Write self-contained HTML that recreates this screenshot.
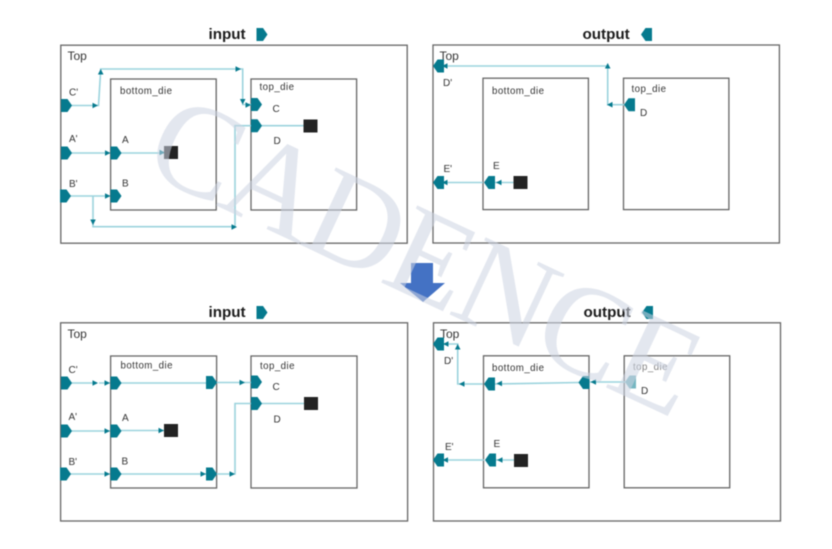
<!DOCTYPE html>
<html><head><meta charset="utf-8"><style>
html,body{margin:0;padding:0;background:#fff}
svg{display:block;filter:blur(.5px)}
text{font-family:"Liberation Sans",sans-serif;fill:#333;font-size:10px}
.t{font-size:15.2px;font-weight:bold;fill:#1c1c1c}
.top{font-size:12px}
.die{font-size:9.7px;letter-spacing:.45px}
.box{fill:none;stroke:#666;stroke-width:1.3}
.w{fill:none;stroke:#9bd3dd;stroke-width:1.6}
.sq{fill:#232323}
.wm{font-family:"Liberation Serif",serif;font-size:130px;letter-spacing:-4px;fill:rgb(205,212,226);opacity:.55}
</style></head><body>
<svg width="832" height="549" viewBox="0 0 832 549" xmlns="http://www.w3.org/2000/svg">
<defs>
<path id="pr" d="M0,-6.5H6.5L11,0L6.5,6.5H0Z" fill="#067a8e"/>
<path id="pl" d="M0,-6.5H-6.5L-11,0L-6.5,6.5H0Z" fill="#067a8e"/>
<path id="ar" d="M0,0L-5.5,-2.8V2.8Z" fill="#067a8e"/>
<path id="al" d="M0,0L5.5,-2.8V2.8Z" fill="#067a8e"/>
<path id="au" d="M0,0L-2.8,5.5H2.8Z" fill="#067a8e"/>
<path id="ad" d="M0,0L-2.8,-5.5H2.8Z" fill="#067a8e"/>
</defs>

<!-- Panel 1 -->
<text class="t" x="208.5" y="39">input</text><use href="#pr" x="256.5" y="34.5"/>
<rect class="box" x="60.8" y="45.2" width="346.4" height="198"/>
<rect class="box" x="110.6" y="79" width="105.6" height="131"/>
<rect class="box" x="251" y="79" width="105.6" height="131"/>
<text class="top" x="67.5" y="60">Top</text>
<text class="die" x="120" y="94">bottom_die</text>
<text class="die" x="259.5" y="90">top_die</text>
<text x="69" y="95.5">C'</text><text x="69" y="142">A'</text><text x="69" y="187">B'</text>
<text x="122" y="143">A</text><text x="122" y="186.5">B</text>
<text x="272.5" y="112">C</text><text x="273.5" y="144">D</text>
<path class="w" d="M61,105.5H98.5L100.7,70V69H242.7V103M242,104.5H251"/>
<path class="w" d="M261,125.7H304M251,125.7H235V226.7H93V196M61,153H110M121,153H164M60,196H110"/>
<use href="#ar" x="98" y="105.5"/><use href="#au" x="100.7" y="69"/><use href="#ar" x="241" y="69"/>
<use href="#ad" x="242.7" y="104.5"/><use href="#ar" x="251" y="105"/>
<use href="#ar" x="110.5" y="153"/><use href="#ar" x="165" y="152.5"/>
<use href="#ar" x="110.5" y="196"/><use href="#ad" x="93" y="225"/><use href="#ar" x="237" y="227"/>
<use href="#pr" x="61" y="105.5"/><use href="#pr" x="61" y="153"/><use href="#pr" x="60" y="196"/>
<use href="#pr" x="110.5" y="153"/><use href="#pr" x="110.5" y="196"/>
<use href="#pr" x="251" y="104.5"/><use href="#pr" x="251" y="125.7"/>
<rect class="sq" x="164" y="146" width="14" height="13"/>
<rect class="sq" x="303.5" y="119.5" width="14" height="13"/>

<!-- Panel 2 -->
<text class="t" x="582.5" y="39">output</text><use href="#pl" x="652" y="34.5"/>
<rect class="box" x="433" y="45" width="346.4" height="198"/>
<rect class="box" x="483" y="78.2" width="105.4" height="131.4"/>
<rect class="box" x="623.5" y="78.2" width="105.4" height="131.4"/>
<text class="top" x="439.5" y="60">Top</text>
<text class="die" x="492" y="94">bottom_die</text>
<text class="die" x="631.5" y="92">top_die</text>
<text x="443" y="86">D'</text><text x="443.5" y="172">E'</text>
<text x="493" y="169">E</text><text x="640" y="116">D</text>
<path class="w" d="M441,66H607.7V104.7H624M441,182.5H483M495,182.5H514"/>
<use href="#al" x="442" y="66"/><use href="#au" x="607.7" y="63"/><use href="#al" x="607" y="104.7"/>
<use href="#al" x="442" y="182.5"/><use href="#al" x="496" y="182.5"/>
<use href="#pl" x="444" y="66"/><use href="#pl" x="444" y="182.5"/>
<use href="#pl" x="495" y="182.5"/><use href="#pl" x="635" y="104.7"/>
<rect class="sq" x="513.5" y="176" width="14" height="13"/>

<!-- Panel 3 -->
<text class="t" x="208.5" y="317">input</text><use href="#pr" x="256.5" y="312.5"/>
<rect class="box" x="60.6" y="322.8" width="347" height="198.2"/>
<rect class="box" x="110.6" y="356" width="106" height="132"/>
<rect class="box" x="251" y="356" width="106" height="132"/>
<text class="top" x="67.5" y="338">Top</text>
<text class="die" x="120.5" y="368.5">bottom_die</text>
<text class="die" x="260" y="369">top_die</text>
<text x="68.5" y="373">C'</text><text x="68.5" y="420">A'</text><text x="68.5" y="465">B'</text>
<text x="122" y="421">A</text><text x="121.5" y="464.5">B</text>
<text x="272.5" y="390">C</text><text x="273.5" y="422.5">D</text>
<path class="w" d="M61,383H97M99,383H110M120,383H206M216,382.5H251"/>
<path class="w" d="M261,403.5H304M251,403.5H235V474H216M120,474H206M60,474H110M61,431H110M121,430.5H164"/>
<use href="#ar" x="98" y="383"/><use href="#ar" x="110" y="383"/><use href="#ar" x="245" y="382.5"/>
<use href="#ar" x="110" y="431"/><use href="#ar" x="164" y="430.5"/>
<use href="#ar" x="110" y="474"/><use href="#ar" x="206" y="474"/><use href="#ar" x="235" y="474"/>
<use href="#pr" x="61" y="383"/><use href="#pr" x="61" y="431"/><use href="#pr" x="60" y="474"/>
<use href="#pr" x="110.5" y="383"/><use href="#pr" x="110.5" y="431"/><use href="#pr" x="110.5" y="474"/>
<use href="#pr" x="206" y="382.5"/><use href="#pr" x="206" y="474"/>
<use href="#pr" x="251" y="382"/><use href="#pr" x="251" y="403.5"/>
<rect class="sq" x="164" y="424" width="14" height="13"/>
<rect class="sq" x="304" y="397" width="14" height="13"/>

<!-- Panel 4 -->
<text class="t" x="583.5" y="317">output</text><use href="#pl" x="653" y="312.5"/>
<rect class="box" x="433.5" y="322.8" width="347" height="198.2"/>
<rect class="box" x="483.5" y="355.8" width="105.5" height="132"/>
<rect class="box" x="624.2" y="355.8" width="105.5" height="132"/>
<text class="top" x="440" y="338">Top</text>
<text class="die" x="492" y="371">bottom_die</text>
<text class="die" x="633" y="370" style="fill:#808080">top_die</text>
<text x="444" y="364">D'</text><text x="445" y="450">E'</text>
<text x="493.5" y="447">E</text><text x="641" y="394">D</text>
<path class="w" d="M442,344H457.7V384H483M495,384L579,382.5M589,382H625M442,460H484M496,460H515"/>
<use href="#al" x="443" y="344"/><use href="#au" x="457.7" y="344"/><use href="#al" x="459" y="384"/>
<use href="#al" x="496.5" y="383.5"/><use href="#al" x="590.5" y="382"/>
<use href="#al" x="442.5" y="460"/><use href="#al" x="497" y="460"/>
<use href="#pl" x="444" y="344"/><use href="#pl" x="444" y="460"/>
<use href="#pl" x="495" y="384"/><use href="#pl" x="589.5" y="382.5"/>
<use href="#pl" x="496" y="460"/><use href="#pl" x="636" y="382" opacity=".55"/>
<rect class="sq" x="514" y="454" width="14" height="13"/>

<!-- Blue arrow -->
<polygon points="411,263 433,263 433,283 445,283 423,302 400,283 411,283" fill="#4472c4"/>

<!-- Watermark -->
<text class="wm" transform="translate(140,170) rotate(25)">CADENCE</text>
</svg>
</body></html>
